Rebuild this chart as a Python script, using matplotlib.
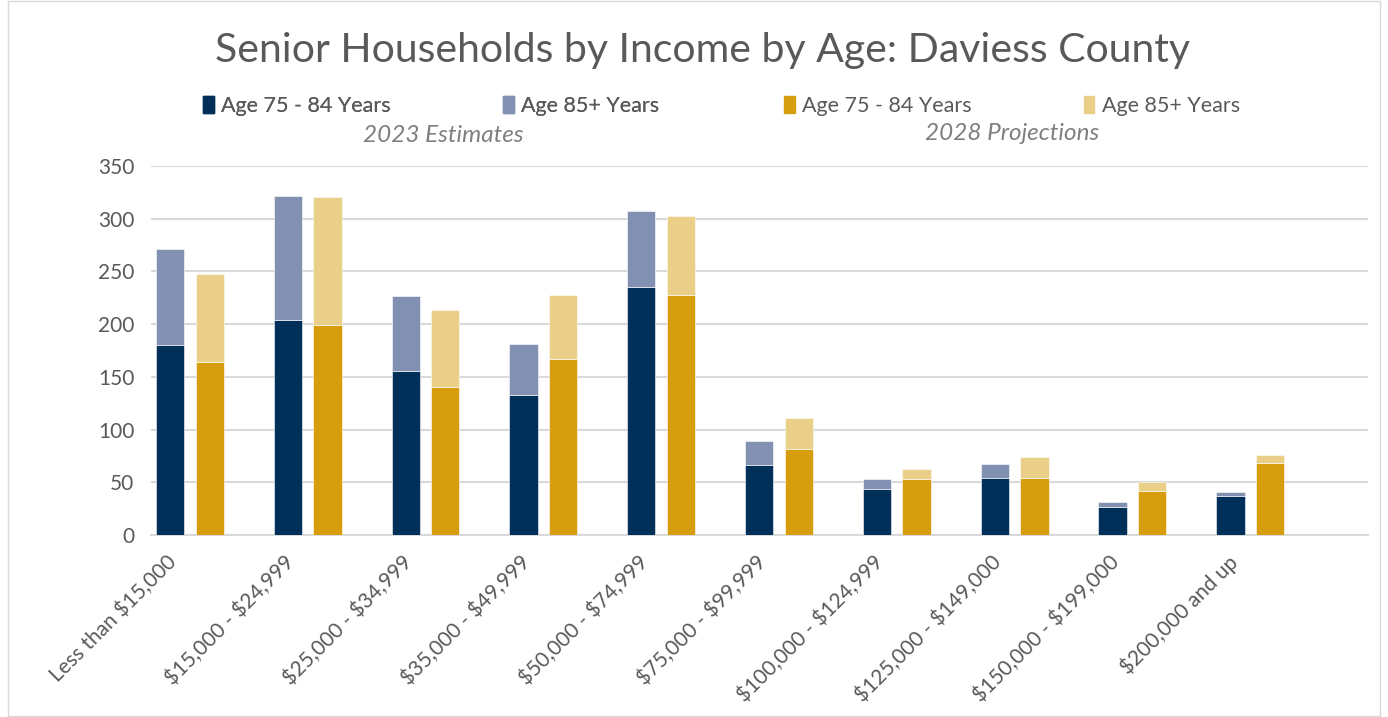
import matplotlib
matplotlib.use("Agg")
import matplotlib.pyplot as plt
import numpy as np
from matplotlib.patches import Patch, Rectangle

# income brackets
categories = ["Less than $15,000", "$15,000 - $24,999", "$25,000 - $34,999",
              "$35,000 - $49,999", "$50,000 - $74,999", "$75,000 - $99,999",
              "$100,000 - $124,999", "$125,000 - $149,000", "$150,000 - $199,000",
              "$200,000 and up"]

# 2023 estimates
est_75_84 = [180, 204, 156, 133, 235, 66, 44, 54, 27, 37]
est_85 = [91, 118, 71, 48, 72, 23, 9, 13, 4, 4]

# 2028 projections
proj_75_84 = [164, 199, 140, 167, 228, 82, 53, 54, 42, 68]
proj_85 = [84, 122, 73, 61, 75, 29, 10, 20, 8, 8]

yticks = [0, 50, 100, 150, 200, 250, 300, 350]

navy = "#00305A"
slate = "#8291B1"
gold = "#D69E0F"
sand = "#EACF89"
grey_txt = "#595959"

plt.rcParams["font.family"] = ["Lato", "DejaVu Sans"]

fig = plt.figure(figsize=(13.88, 7.17), dpi=100)
ax = fig.add_axes([0.1088, 0.2538, 0.8768, 0.5146])

x = np.arange(len(categories))
w = 0.24
off = 0.168

ax.bar(x - off, est_75_84, w, color=navy, edgecolor="#ffffff", linewidth=0.4, zorder=3)
ax.bar(x - off, est_85, w, bottom=est_75_84, color=slate, edgecolor="#ffffff", linewidth=0.4, zorder=3)
ax.bar(x + off, proj_75_84, w, color=gold, edgecolor="#ffffff", linewidth=0.4, zorder=3)
ax.bar(x + off, proj_85, w, bottom=proj_75_84, color=sand, edgecolor="#ffffff", linewidth=0.4, zorder=3)

ax.set_xlim(-0.33, 10.0)
ax.set_ylim(0, 350)
ax.set_yticks(yticks)
ax.yaxis.grid(True, color="#D9D9D9", linewidth=1.5, zorder=0)
ax.set_axisbelow(True)
for s in ["top", "right", "left"]:
    ax.spines[s].set_visible(False)
ax.spines["bottom"].set_color("#D9D9D9")
ax.spines["bottom"].set_linewidth(1.5)
ax.tick_params(axis="both", length=0, labelsize=15, labelcolor=grey_txt)
ax.tick_params(axis="y", pad=12)

ax.set_xticks(x - 0.2)
ax.set_xticklabels([c.replace("$", r"\$") for c in categories],
                   rotation=45, ha="right", rotation_mode="anchor")
ax.tick_params(axis="x", pad=12)

fig.text(0.506, 0.93, "Senior Households by Income by Age: Daviess County",
         ha="center", va="center", fontsize=29.5, color=grey_txt)

labels = ["Age 75 - 84 Years", "Age 85+ Years"]
leg1 = fig.legend(handles=[Patch(color=navy), Patch(color=slate)], labels=labels,
                  ncol=2, loc="center left", bbox_to_anchor=(0.1324, 0.852),
                  frameon=False, fontsize=15.5, handlelength=0.5, handleheight=0.85,
                  handletextpad=0.35, columnspacing=5.2, labelcolor=grey_txt)
fig.legend(handles=[Patch(color=gold), Patch(color=sand)], labels=labels,
           ncol=2, loc="center left", bbox_to_anchor=(0.5507, 0.852),
           frameon=False, fontsize=15.5, handlelength=0.5, handleheight=0.85,
           handletextpad=0.35, columnspacing=5.2, labelcolor=grey_txt)
fig.add_artist(leg1)

fig.text(443 / 1388, 1 - 135 / 717, "2023 Estimates", ha="center", va="center",
         fontsize=17.5, style="italic", color="#7F7F7F")
fig.text(1012 / 1388, 1 - 133 / 717, "2028 Projections", ha="center", va="center",
         fontsize=17.5, style="italic", color="#7F7F7F")

fig.add_artist(Rectangle((0.006, 0.002), 0.988, 0.996, transform=fig.transFigure,
                         fill=False, edgecolor="#D9D9D9", linewidth=1))

fig.savefig("out.png", dpi=100)
